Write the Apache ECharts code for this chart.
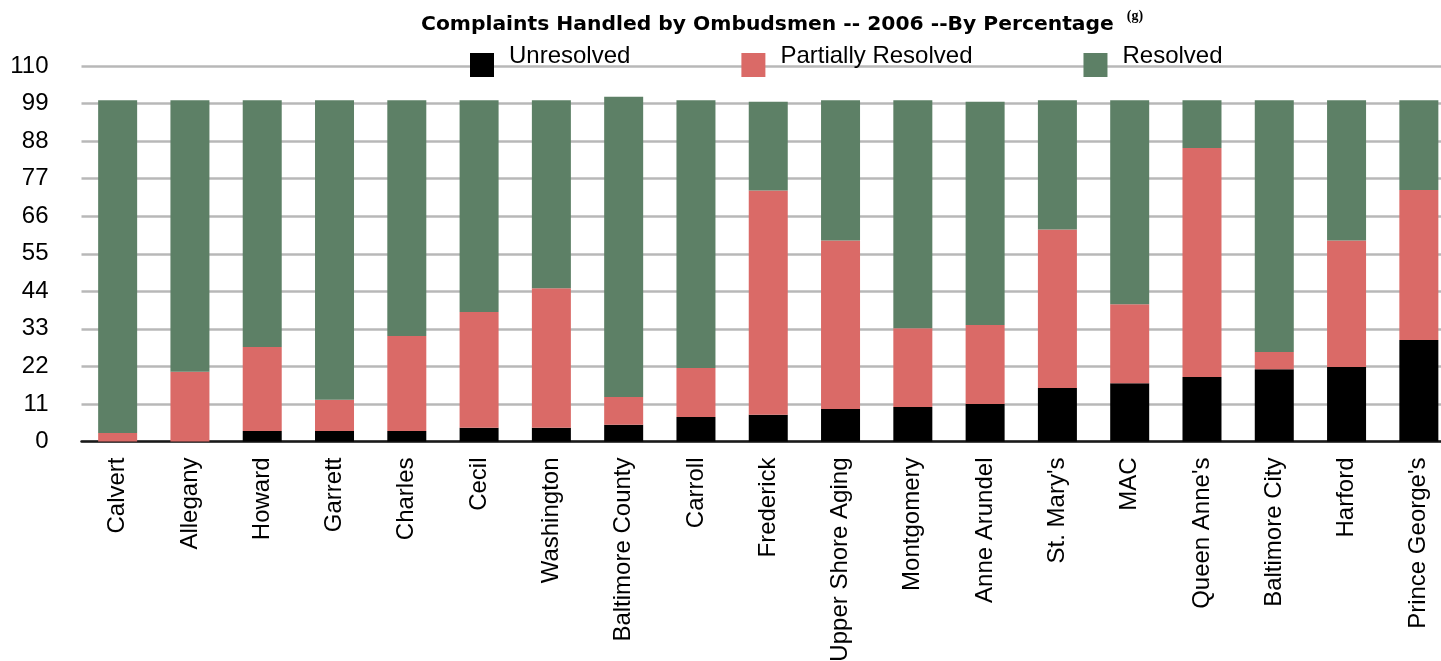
<!DOCTYPE html>
<html>
<head>
<meta charset="utf-8">
<script src="https://cdn.jsdelivr.net/npm/echarts@6/dist/echarts.min.js"></script>
<style>
  html, body { margin: 0; padding: 0; background: #fff; }
  #chart { width: 1441px; height: 661px; }
</style>
</head>
<body>
<div id="chart"></div>
<script>
// Ombudsman complaint outcomes by county, 2006 (percent of complaints)
const categories = ["Calvert", "Allegany", "Howard", "Garrett", "Charles", "Cecil", "Washington",
  "Baltimore County", "Carroll", "Frederick", "Upper Shore Aging", "Montgomery", "Anne Arundel",
  "St. Mary's", "MAC", "Queen Anne's", "Baltimore City", "Harford", "Prince George's"];
const unresolved = [0, 0, 3.1, 3.1, 3.1, 4.0, 4.0, 4.9, 7.2, 7.8, 9.5, 10.1, 11.0, 15.7, 17.1, 18.9, 21.2, 21.8, 29.7];
const partiallyResolved = [2.5, 20.4, 24.6, 9.1, 27.8, 33.9, 40.9, 8.1, 14.3, 65.7, 49.4, 23.1, 23.1, 46.4, 23.1, 67.1, 5.0, 37.1, 44.0];
const resolved = [97.5, 79.6, 72.3, 87.8, 69.1, 62.1, 55.1, 88.0, 78.5, 26.0, 41.1, 66.8, 65.4, 37.9, 59.8, 14.0, 73.8, 41.1, 26.3];
const yTicks = [0, 11, 22, 33, 44, 55, 66, 77, 88, 99, 110];

const FONT = '"Liberation Sans", Arial, Helvetica, sans-serif';
const chart = echarts.init(document.getElementById('chart'), null, { renderer: 'canvas' });

const barStyle = (name, data, color) => ({
  name, type: 'bar', stack: 'total', data, barWidth: 39,
  itemStyle: { color }, emphasis: { disabled: true }
});

// legend swatch: a 24x24 square sitting in the lower part of a 24x42 item box
const swatch = 'path://M0,0 M0,18 L24,18 L24,42 L0,42 Z';

chart.setOption({
  animation: false,
  backgroundColor: '#ffffff',
  title: {
    text: '{t|Complaints Handled by Ombudsmen -- 2006 --By Percentage} {s|(g)}',
    left: 416,
    top: 4,
    textStyle: {
      rich: {
        t: { fontFamily: '"DejaVu Sans", sans-serif', fontWeight: 'bold', fontSize: 20.3, color: '#000' },
        s: { fontFamily: '"Liberation Serif", "DejaVu Serif", serif', fontWeight: 'bold', fontSize: 14,
             color: '#000', verticalAlign: 'top', padding: [0, 0, 18, 8] }
      }
    }
  },
  legend: {
    left: 470,
    top: 35,
    padding: 0,
    itemWidth: 24,
    itemHeight: 42,
    itemGap: 111,
    icon: swatch,
    textStyle: { fontFamily: FONT, fontSize: 24, color: '#000', padding: [0, 0, 0, 10] },
    data: ['Unresolved', 'Partially Resolved', 'Resolved']
  },
  grid: { left: 81.5, right: -14, top: 66, bottom: 219.5, containLabel: false, outerBoundsMode: 'none' },
  xAxis: {
    type: 'category',
    data: categories,
    axisLine: { show: true, lineStyle: { color: '#1a1a1a', width: 2.5 } },
    axisTick: { show: false },
    axisLabel: { rotate: 90, interval: 0, margin: 16, fontFamily: FONT, fontSize: 24, color: '#000' }
  },
  yAxis: {
    type: 'value',
    min: yTicks[0],
    max: yTicks[yTicks.length - 1],
    interval: yTicks[1] - yTicks[0],
    axisLine: { show: false },
    axisTick: { show: false },
    splitLine: { lineStyle: { color: '#b8b8b8', width: 2.5 } },
    axisLabel: { margin: 33, fontFamily: FONT, fontSize: 24, color: '#000' }
  },
  series: [
    barStyle('Unresolved', unresolved, '#000000'),
    barStyle('Partially Resolved', partiallyResolved, '#da6a67'),
    barStyle('Resolved', resolved, '#5d8066')
  ]
});
</script>
</body>
</html>
